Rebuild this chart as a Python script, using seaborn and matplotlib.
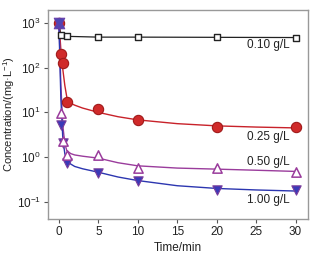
import matplotlib
matplotlib.use("Agg")
import matplotlib.pyplot as plt
import numpy as np
import pandas as pd
import seaborn as sns

# measured points (time in min, concentration in mg/L)
t_010 = [0.25, 1, 5, 10, 20, 30]
c_010 = [530, 500, 480, 480, 475, 470]

t_025 = [0, 0.25, 0.5, 1, 5, 10, 20, 30]
c_025 = [1000, 200, 125, 17, 12, 6.8, 4.8, 4.6]

t_050 = [0, 0.25, 0.5, 1, 5, 10, 20, 30]
c_050 = [1000, 9.5, 2.3, 1.1, 1.1, 0.57, 0.56, 0.47]

t_100 = [0, 0.25, 0.5, 1, 5, 10, 20, 30]
c_100 = [1000, 5.2, 2.1, 0.75, 0.44, 0.30, 0.18, 0.18]

# fitted curves
fit_t = [0, 0.1, 0.25, 0.5, 0.75, 1, 1.5, 2, 3, 5, 7.5, 10, 15, 20, 25, 30]
fit_025 = [1000, 600, 250, 90, 40, 22, 16, 14.5, 12.5, 10, 8, 6.8, 5.6, 5.0, 4.7, 4.5]
fit_050 = [1000, 300, 40, 5, 2.0, 1.4, 1.2, 1.12, 1.05, 0.95, 0.75, 0.64, 0.57, 0.54, 0.51, 0.48]
fit_100 = [1000, 200, 20, 2.5, 1.2, 0.85, 0.7, 0.62, 0.55, 0.46, 0.36, 0.30, 0.23, 0.20, 0.185, 0.175]

labels = ["0.10 g/L", "0.25 g/L", "0.50 g/L", "1.00 g/L"]

sns.set_style("ticks")
plt.rcParams["font.family"] = ["Liberation Sans", "DejaVu Sans"]
plt.rcParams["mathtext.fontset"] = "custom"
plt.rcParams["mathtext.rm"] = "Liberation Sans"
plt.rcParams["mathtext.it"] = "Liberation Sans:italic"
plt.rcParams["font.size"] = 8.5

fig = plt.figure(figsize=(3.17, 2.60), dpi=100)
ax = fig.add_axes([0.151, 0.158, 0.821, 0.804])

black = "#222222"
red = "#c8222a"
purple = "#9a3c9c"
blue = "#2c36b0"

fits = pd.DataFrame({"t": fit_t, "c025": fit_025, "c050": fit_050, "c100": fit_100})

# black series: straight connecting line
sns.lineplot(x=t_010, y=c_010, ax=ax, color=black, lw=0.9, zorder=2)
ax.plot([0, t_010[0]], [1000, c_010[0]], color=black, lw=0.9, zorder=2)

sns.lineplot(data=fits, x="t", y="c025", ax=ax, color=red, lw=1.0, zorder=2)
sns.lineplot(data=fits, x="t", y="c050", ax=ax, color=purple, lw=1.0, zorder=2)
sns.lineplot(data=fits, x="t", y="c100", ax=ax, color=blue, lw=1.0, zorder=2)

ax.scatter(t_010, c_010, marker="s", s=22, facecolor="white", edgecolor=black, lw=1.0, zorder=4)
ax.scatter(t_025, c_025, marker="o", s=55, facecolor="#d02a2a", edgecolor="#a01a1a", lw=0.8, zorder=3)
ax.scatter(t_050[1:], c_050[1:], marker="^", s=45, facecolor="white", edgecolor=purple, lw=1.1, zorder=5)
ax.scatter(t_100[1:], c_100[1:], marker="v", s=45, facecolor="#3a3ab8", edgecolor="#7a3c9c", lw=0.8, zorder=4)
# start point: both triangles overlap into a star
ax.scatter([t_050[0]], [c_050[0]], marker="^", s=60, facecolor="#5046b4", edgecolor="#6a3ca8", lw=0.6, zorder=6)
ax.scatter([t_100[0]], [c_100[0]], marker="v", s=60, facecolor="#5046b4", edgecolor="#6a3ca8", lw=0.6, zorder=6)

ax.set_yscale("log")
ax.set_xlim(-1.4, 31.6)
ax.set_ylim(10 ** -1.38, 10 ** 3.29)
ax.set_xticks([0, 5, 10, 15, 20, 25, 30])
ax.set_yticks([0.1, 1, 10, 100, 1000])
ax.yaxis.set_minor_locator(matplotlib.ticker.NullLocator())
ax.set_xlabel("Time/min", fontsize=8.5, labelpad=3, color="#222222")
ax.set_ylabel("Concentration/(mg·L$^{-1}$)", fontsize=8, color="#222222")
ax.yaxis.set_label_coords(-0.12, 0.5)
ax.tick_params(axis="both", labelsize=8.5, length=3, width=0.8, color="#555555", pad=2,
               labelcolor="#222222")
for s in ax.spines.values():
    s.set_color("#999999")
    s.set_linewidth(1.0)

ax.text(29.3, 320, labels[0], ha="right", va="center", fontsize=8.5, color="#222222")
ax.text(29.3, 2.8, labels[1], ha="right", va="center", fontsize=8.5, color="#222222")
ax.text(29.3, 0.78, labels[2], ha="right", va="center", fontsize=8.5, color="#222222")
ax.text(29.3, 0.11, labels[3], ha="right", va="center", fontsize=8.5, color="#222222")

fig.savefig("out.png", dpi=100)
